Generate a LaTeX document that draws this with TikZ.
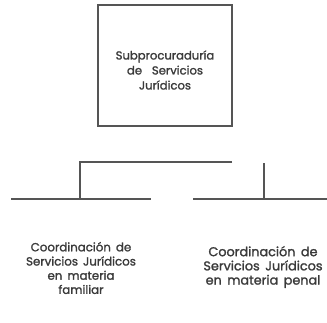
\documentclass[tikz,border=0pt]{standalone}
\usepackage{fontspec}
\setmainfont{Poppins}[FakeBold=1.5,WordSpace=1.6]
\definecolor{linegray}{HTML}{555555}
\definecolor{textgray}{HTML}{3a3a3a}
\begin{document}
\begin{tikzpicture}[x=1pt,y=-1pt,
  orgbox/.style={draw=linegray,line width=2pt,minimum width=134pt,minimum height=121pt,inner sep=0pt},
  orgtext/.style={text=textgray,align=center,font=\fontsize{11.8}{14.2}\selectfont,inner sep=0pt},
  conn/.style={draw=linegray,line width=2pt}]
\useasboundingbox (0,0) rectangle (327,322);
\node[orgbox] (top) at (165,65.5) {};
\node[orgtext,font=\fontsize{11.6}{15}\selectfont] (toptext) at (165,70) {Subprocuraduría\\de\ \ Servicios\\Jurídicos};
\coordinate (busL) at (80,162);
\coordinate (busR) at (232,162);
\coordinate (leftJ) at (80,199);
\coordinate (leftA) at (11,199);
\coordinate (leftB) at (151,199);
\coordinate (rightT) at (264,163);
\coordinate (rightJ) at (264,199);
\coordinate (rightA) at (193,199);
\coordinate (rightB) at (327,199);
\draw[conn] (busR) -- (busL) -- (leftJ);
\draw[conn] (leftA) -- (leftB);
\draw[conn] (rightT) -- (rightJ);
\draw[conn] (rightA) -- (rightB);
\node[orgtext] (left) at (81,268) {Coordinación de\\Servicios Jurídicos\\en materia\\familiar};
\node[orgtext,font=\fontsize{12.8}{14.2}\selectfont] (right) at (263,267) {Coordinación de\\Servicios Jurídicos\\en materia penal};
\end{tikzpicture}
\end{document}
